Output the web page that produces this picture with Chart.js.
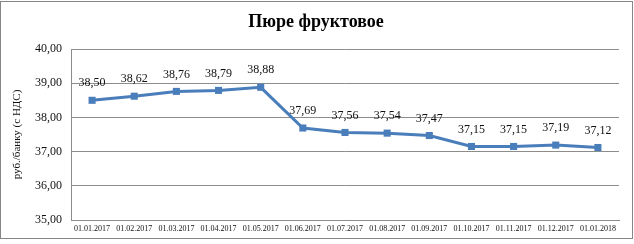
<!DOCTYPE html>
<html>
<head>
<meta charset="utf-8">
<script src="https://cdn.jsdelivr.net/npm/chart.js@4"></script>
<style>
  body { margin: 0; background: #fff; }
  canvas { display: block; }
</style>
</head>
<body>
<canvas id="grafico" width="634" height="244"></canvas>
<script>
const datas = ['01.01.2017', '01.02.2017', '01.03.2017', '01.04.2017', '01.05.2017', '01.06.2017',
    '01.07.2017', '01.08.2017', '01.09.2017', '01.10.2017', '01.11.2017', '01.12.2017', '01.01.2018'];
const precos = [38.50, 38.62, 38.76, 38.79, 38.88, 37.69, 37.56, 37.54, 37.47, 37.15, 37.15, 37.19, 37.12];
const titulo = 'Пюре фруктовое';
const tituloEixoY = 'руб./банку (с НДС)';

const serif = '"Liberation Serif", "Times New Roman", serif';
const azul = '#4A7EBB';
const cinza = '#8c8c8c';

function formata(v) {
    return v.toFixed(2).replace('.', ',');
}

// moldura, título e rótulos dos pontos
const extras = {
    id: 'extras',
    beforeDraw(chart) {
        const ctx = chart.ctx;
        ctx.save();
        ctx.strokeStyle = '#868686';
        ctx.lineWidth = 1;
        ctx.strokeRect(0.5, 1.5, 632, 237);
        ctx.restore();
    },
    afterDatasetsDraw(chart) {
        const ctx = chart.ctx;
        ctx.save();
        ctx.font = 'bold 18px ' + serif;
        ctx.fillStyle = '#000';
        ctx.textAlign = 'center';
        ctx.textBaseline = 'middle';
        ctx.fillText(titulo, 316, 22);

        ctx.font = '12px ' + serif;
        ctx.fillStyle = '#111';
        const meta = chart.getDatasetMeta(0);
        meta.data.forEach((p, i) => {
            ctx.fillText(formata(precos[i]), p.x, p.y - 17);
        });
        ctx.restore();
    }
};

const ctx = document.getElementById('grafico').getContext('2d');
const grafico = new Chart(ctx, {
    type: 'line',
    data: {
        labels: datas,
        datasets: [{
            data: precos,
            borderColor: azul,
            backgroundColor: azul,
            borderWidth: 3,
            tension: 0,
            pointStyle: 'rect',
            pointRadius: 5,
            pointBorderWidth: 0
        }]
    },
    options: {
        responsive: false,
        animation: false,
        layout: { padding: { top: 49, right: 15, left: 0, bottom: 0 } },
        plugins: {
            legend: { display: false },
            tooltip: { enabled: false }
        },
        scales: {
            x: {
                offset: true,
                grid: { display: false, drawTicks: false },
                border: { display: true, color: cinza, width: 1 },
                ticks: {
                    font: { family: serif, size: 8 },
                    color: '#111',
                    padding: 4,
                    maxRotation: 0,
                    autoSkip: false
                },
                afterFit(scale) { scale.height = 24; }
            },
            y: {
                min: 35,
                max: 40,
                ticks: {
                    stepSize: 1,
                    font: { family: serif, size: 12 },
                    color: '#111',
                    padding: 9,
                    callback: v => formata(v)
                },
                grid: { color: cinza, drawTicks: false },
                border: { display: true, color: cinza, width: 1 },
                title: {
                    display: true,
                    text: tituloEixoY,
                    font: { family: serif, size: 11 },
                    color: '#111',
                    padding: { top: 11, bottom: 0 }
                },
                afterFit(scale) { scale.width = 71; }
            }
        }
    },
    plugins: [extras]
});
</script>
</body>
</html>
